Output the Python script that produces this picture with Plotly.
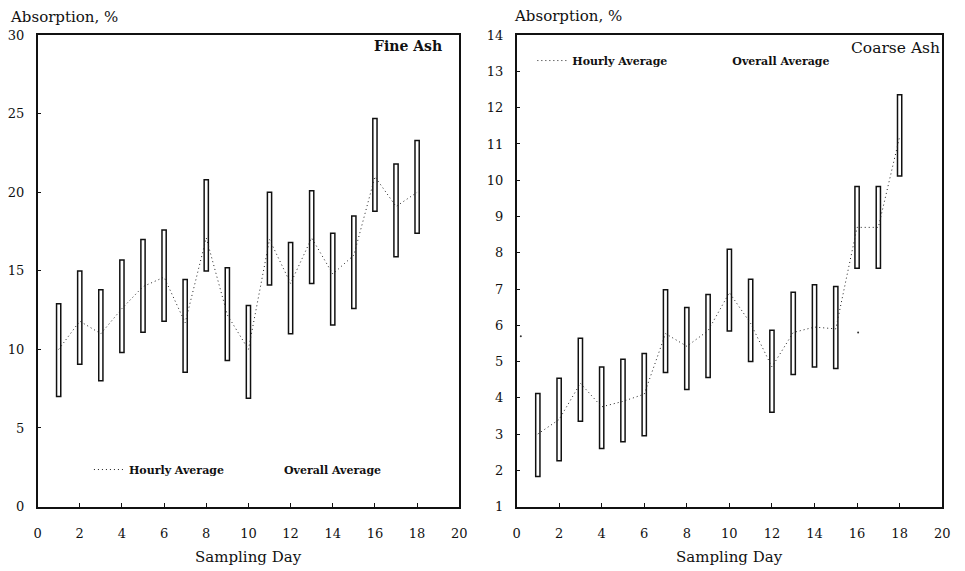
import plotly.graph_objects as go

# Sampling days
days = list(range(1, 19))

# Fine ash: hourly range (low/high) and hourly average, absorption %
fine_low = [7.0, 9.05, 8.0, 9.8, 11.1, 11.8, 8.55, 15.0, 9.3, 6.9, 14.1, 11.0, 14.2, 11.55, 12.6, 18.8, 15.9, 17.4]
fine_high = [12.9, 15.0, 13.8, 15.7, 17.0, 17.6, 14.45, 20.8, 15.2, 12.8, 20.0, 16.8, 20.1, 17.4, 18.5, 24.7, 21.8, 23.3]
fine_avg = [10.0, 11.8, 11.0, 12.6, 14.0, 14.6, 11.7, 17.1, 12.2, 10.0, 17.0, 14.2, 17.1, 14.8, 16.0, 21.0, 19.1, 20.0]

# Coarse ash: hourly range (low/high) and hourly average, absorption %
coarse_low = [1.83, 2.26, 3.35, 2.6, 2.79, 2.95, 4.7, 4.23, 4.56, 5.84, 5.0, 3.6, 4.64, 4.85, 4.81, 7.57, 7.57, 10.12]
coarse_high = [4.12, 4.54, 5.64, 4.85, 5.06, 5.22, 6.98, 6.49, 6.85, 8.1, 7.27, 5.86, 6.91, 7.12, 7.07, 9.83, 9.83, 12.36]
coarse_avg = [3.0, 3.4, 4.4, 3.75, 3.9, 4.1, 5.77, 5.42, 5.85, 6.9, 6.05, 4.85, 5.8, 5.95, 5.9, 8.7, 8.7, 11.2]

# Overall average (coarse ash) – only its end points remain visible
coarse_overall_x = [0.2, 16.05]
coarse_overall_y = [5.7, 5.8]

x_ticks = list(range(0, 21, 2))
fine_y_ticks = list(range(0, 31, 5))
coarse_y_ticks = list(range(1, 15))

INK = "#111111"
SERIF = "DejaVu Serif"

fig = go.Figure()


def add_panel(low, high, avg, xa, ya, legend_name, group, overall_x, overall_y):
    fig.add_trace(go.Bar(
        x=days, y=[h - l for h, l in zip(high, low)], base=low, width=0.2,
        marker=dict(color="rgba(0,0,0,0)", line=dict(color=INK, width=1.5)),
        xaxis=xa, yaxis=ya, showlegend=False, hoverinfo="skip",
    ))
    fig.add_trace(go.Scatter(
        x=days, y=avg, mode="lines", name="Hourly Average",
        line=dict(color="#222222", width=1, dash="1px,3px"),
        xaxis=xa, yaxis=ya, legend=legend_name,
    ))
    # legend entry for the overall average (its line is not printed)
    fig.add_trace(go.Scatter(
        x=[None], y=[None], mode="lines", name="Overall Average",
        line=dict(color="rgba(0,0,0,0)", width=1),
        xaxis=xa, yaxis=ya, legend=legend_name, legendgroup=group,
    ))
    if overall_x:
        fig.add_trace(go.Scatter(
            x=overall_x, y=overall_y, mode="markers", name="Overall Average",
            marker=dict(color="#333333", size=2),
            xaxis=xa, yaxis=ya, showlegend=False, legendgroup=group,
        ))


add_panel(fine_low, fine_high, fine_avg, "x", "y", "legend", "fine_overall", [], [])
add_panel(coarse_low, coarse_high, coarse_avg, "x2", "y2", "legend2", "coarse_overall",
          coarse_overall_x, coarse_overall_y)

W, H = 965, 571
axis_common = dict(
    showgrid=False, zeroline=False, showline=True, linecolor=INK, linewidth=1.5,
    mirror=True, ticks="inside", ticklen=4, tickcolor=INK,
    tickfont=dict(family=SERIF, size=13, color=INK),
)

fig.update_layout(
    width=W, height=H,
    margin=dict(l=0, r=0, t=0, b=0),
    paper_bgcolor="white", plot_bgcolor="white",
    barmode="overlay",
    font=dict(family=SERIF, color=INK),
    xaxis=dict(domain=[34 / W, 461 / W], range=[0, 20], tickvals=x_ticks, anchor="y",
               ticklabelstandoff=14, **axis_common),
    yaxis=dict(domain=[1 - 513 / H, 1 - 29 / H], range=[0, 30], tickvals=fine_y_ticks, anchor="x",
               ticklabelstandoff=9, **axis_common),
    xaxis2=dict(domain=[519 / W, 950 / W], range=[0, 20], tickvals=x_ticks, anchor="y2",
                ticklabelstandoff=14, **axis_common),
    yaxis2=dict(domain=[1 - 513 / H, 1 - 29 / H], range=[1, 14], tickvals=coarse_y_ticks, anchor="x2",
                ticklabelstandoff=9, **axis_common),
    legend=dict(
        orientation="h", x=86 / W, y=1 - 475 / H, xanchor="left", yanchor="middle",
        bgcolor="rgba(0,0,0,0)", entrywidth=110,
        font=dict(family=SERIF, size=11, color=INK, weight="bold"),
    ),
    legend2=dict(
        orientation="h", x=535 / W, y=1 - 55 / H, xanchor="left", yanchor="middle",
        bgcolor="rgba(0,0,0,0)", entrywidth=115,
        font=dict(family=SERIF, size=11, color=INK, weight="bold"),
    ),
)

annotations = [
    dict(text="Absorption, %", x=4 / W, y=1 - 10 / H, xanchor="left", yanchor="middle",
         font=dict(size=15)),
    dict(text="Absorption, %", x=514 / W, y=1 - 9 / H, xanchor="left", yanchor="middle",
         font=dict(size=15)),
    dict(text="Sampling Day", x=247.5 / W, y=1 - 565 / H, xanchor="center", yanchor="middle",
         font=dict(size=15)),
    dict(text="Sampling Day", x=734.5 / W, y=1 - 565 / H, xanchor="center", yanchor="middle",
         font=dict(size=15)),
    dict(text="<b>Fine Ash</b>", x=446 / W, y=1 - 40 / H, xanchor="right", yanchor="middle",
         font=dict(size=14)),
    dict(text="Coarse Ash", x=950 / W, y=1 - 42 / H, xanchor="right", yanchor="middle",
         font=dict(size=15.5)),
]
for a in annotations:
    a.update(xref="paper", yref="paper", showarrow=False)
    a["font"].update(family=SERIF, color=INK)
fig.update_layout(annotations=annotations)

fig.write_html("out.html")
